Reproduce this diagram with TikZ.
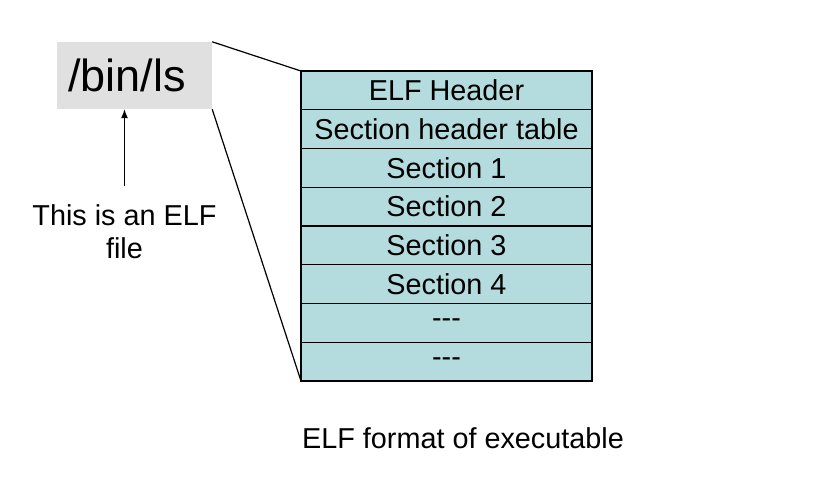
\documentclass[tikz,border=0pt]{standalone}
\usepackage{fontspec}
\setmainfont{Liberation Sans}
\usetikzlibrary{positioning, arrows.meta}

\definecolor{rowteal}{RGB}{180,220,222}
\definecolor{bingray}{RGB}{224,224,224}

\begin{document}
\begin{tikzpicture}[x=1pt,y=-1pt,
  row/.style={draw=black, line width=1.2pt, fill=rowteal, minimum width=291pt,
    minimum height=38.75pt, inner sep=0pt, outer sep=0pt, font=\fontsize{28.8}{33}\selectfont},
  txt/.style={font=\fontsize{28.8}{33}\selectfont, align=center}]
\useasboundingbox (0,0) rectangle (830,503);

% file name
\node[fill=bingray, minimum height=67pt, text width=133pt, inner xsep=11pt,
  align=left, font=\fontsize{45}{50}\selectfont] (bin) at (134.5,75.5) {/bin/ls};

% the stack of parts
\node[row] (r1) at (446.5,90.4) {ELF Header};
\node[row, below=0pt of r1] (r2) {Section header table};
\node[row, below=0pt of r2] (r3) {Section 1};
\node[row, below=0pt of r3] (r4) {Section 2};
\node[row, below=0pt of r4] (r5) {Section 3};
\node[row, below=0pt of r5] (r6) {Section 4};
\node[row, below=0pt of r6] (r7) {-{}-{}-};
\node[row, below=0pt of r7] (r8) {-{}-{}-};

\draw[line width=1.2pt] (bin.north east) -- (r1.north west);
\draw[line width=1.2pt] (bin.south east) -- (r8.south west);

% note
\node[txt] (note) at (124.5,231.5) {This is an ELF\\file};
\coordinate (tail) at (124.5,186);
\draw[line width=1.2pt, -{Latex[length=9pt,width=7pt]}] (tail) -- (tail |- bin.south);

\node[txt] (cap) at (463,438) {ELF format of executable};
\end{tikzpicture}
\end{document}
